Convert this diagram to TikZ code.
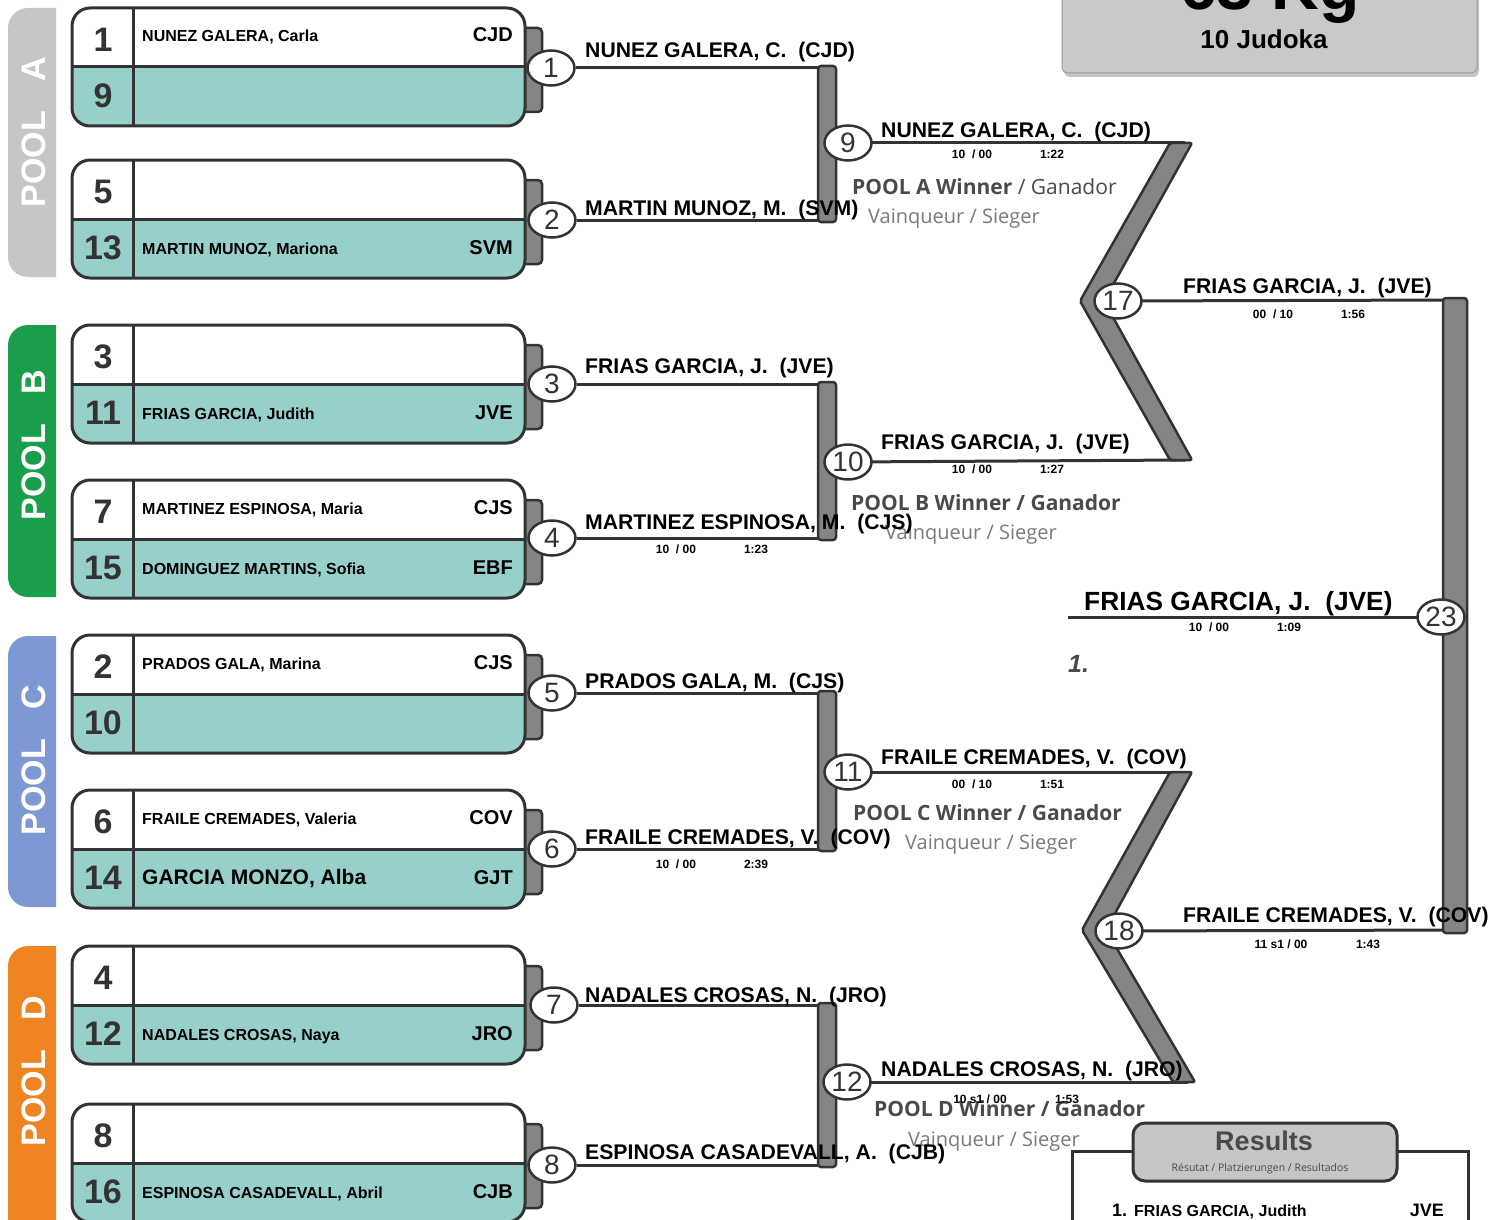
\documentclass[tikz,border=0pt]{standalone}
\usepackage{fontspec}
\setmainfont{Liberation Sans}
\newfontfamily\winfont{Open Sans}
\usetikzlibrary{shapes.geometric,shadows}
\definecolor{dk}{HTML}{333333}
\definecolor{bargray}{HTML}{858585}
\definecolor{tealc}{HTML}{97D0CB}
\definecolor{poolA}{HTML}{C6C6C6}
\definecolor{poolB}{HTML}{1B9E4B}
\definecolor{poolC}{HTML}{7D98D3}
\definecolor{poolD}{HTML}{EE8422}
\definecolor{titlegray}{HTML}{C8C9C9}
\definecolor{wintxt}{HTML}{4A4A4A}
\definecolor{vqtxt}{HTML}{7A7A7A}
\newcommand\fsz[1]{\fontsize{#1}{#1}\selectfont}
\tikzset{
 ebseed/.style={inner sep=0pt,font=\bfseries\fsz{34},text=dk},
 ebname/.style={anchor=base west,inner sep=0pt,font=\bfseries\fsz{16}},
 ebclub/.style={anchor=base east,inner sep=0pt,font=\bfseries\fsz{20}},
 mnum/.style={ellipse,draw=dk,line width=2.5pt,fill=white,minimum width=47pt,minimum height=35pt,inner sep=0pt,font=\fsz{28},text=dk},
 lbl/.style={anchor=base west,inner sep=0pt,font=\bfseries\fsz{21.2}},
 scoretxt/.style={anchor=base,inner sep=0pt,font=\bfseries\fsz{12}},
 conn/.style={draw=dk,line width=3pt},
 vbar/.style={fill=bargray,draw=dk,line width=2.5pt,rounded corners=3pt},
 vband/.style={fill=bargray,draw=dk,line width=2.5pt,rounded corners=2pt},
 wintop/.style={anchor=base west,inner sep=0pt,font=\winfont\fsz{21},text=wintxt},
 vqline/.style={anchor=base west,inner sep=0pt,font=\winfont\fsz{20},text=vqtxt},
 pooltxt/.style={rotate=90,inner sep=0pt,font=\bfseries\fsz{34},text=white}
}
\newcommand\ebox[8]{%
 \pgfmathsetmacro\bxT{#2}\pgfmathsetmacro\bxM{#2+59}\pgfmathsetmacro\bxB{#2+118}%
 \pgfmathsetmacro\bxU{#2+20}\pgfmathsetmacro\bxL{#2+104}%
 \filldraw[fill=bargray,draw=dk,line width=2.5pt,rounded corners=4pt] (505,\bxU) rectangle (542,\bxL);
 \fill[tealc,rounded corners=18pt] (72,\bxT) rectangle (525,\bxB);
 \begin{scope}\clip (60,\bxT-5) rectangle (540,\bxM);
 \fill[white,rounded corners=18pt] (72,\bxT) rectangle (525,\bxB);\end{scope}
 \draw[dk,line width=3pt] (72,\bxM) -- (525,\bxM) (133,\bxT) -- (133,\bxB);
 \draw[dk,line width=3pt,rounded corners=18pt] (72,\bxT) rectangle (525,\bxB);
 \node[ebseed] (sd#3) at (103,\bxT+32) {#3};
 \node[ebseed] (sd#6) at (103,\bxM+29) {#6};
 \node[ebname] (nm#3) at (142,\bxT+34) {#4};
 \node[ebclub] (cl#3) at (513,\bxT+34) {#5};
 \node[ebname] (nm#6) at (142,\bxM+35) {#7};
 \node[ebclub] (cl#6) at (513,\bxM+35) {#8};
}
\newcommand\pooltab[5]{%
 \begin{scope}\clip (0,#2) rectangle (56,#3);
 \fill[#1,rounded corners=20pt] (8,#2) rectangle (90,#3);\end{scope}
 \node[pooltxt] (pool#4) at (34,#5) {POOL\hspace{30pt}#4};
}
\begin{document}
\begin{tikzpicture}[x=1pt,y=-1pt]
\useasboundingbox (0,0) rectangle (1491,1220);
\fill[white] (0,0) rectangle (1491,1220);

% pool tabs
\pooltab{poolA}{8}{277}{A}{132}
\pooltab{poolB}{325}{597}{B}{445}
\pooltab{poolC}{636}{907}{C}{760}
\pooltab{poolD}{946}{1240}{D}{1071}

% entry boxes
\ebox{b1}{8}{1}{NUNEZ GALERA, Carla}{CJD}{9}{}{}
\ebox{b2}{160}{5}{}{}{13}{MARTIN MUNOZ, Mariona}{SVM}
\ebox{b3}{325}{3}{}{}{11}{FRIAS GARCIA, Judith}{JVE}
\ebox{b4}{480}{7}{MARTINEZ ESPINOSA, Maria}{CJS}{15}{DOMINGUEZ MARTINS, Sofia}{EBF}
\ebox{b5}{635}{2}{PRADOS GALA, Marina}{CJS}{10}{}{}
\ebox{b6}{790}{6}{FRAILE CREMADES, Valeria}{COV}{14}{\fsz{21}GARCIA MONZO, Alba}{GJT}
\ebox{b7}{946}{4}{}{}{12}{NADALES CROSAS, Naya}{JRO}
\ebox{b8}{1104}{8}{}{}{16}{ESPINOSA CASADEVALL, Abril}{CJB}

% title box
\path[fill=titlegray,draw=gray!80,line width=1pt,rounded corners=6pt,
 drop shadow={shadow xshift=2pt,shadow yshift=-4pt,opacity=0.45}] (1062,-20) rectangle (1477,73);
\node[anchor=base west,inner sep=0pt,font=\bfseries\fsz{66}] (wclass) at (1180,10) {63 Kg};
\node[anchor=base,inner sep=0pt,font=\bfseries\fsz{26}] (judoka) at (1264,49) {10 Judoka};

% match circles (round 1)
\node[mnum] (m1) at (551,68) {1};
\node[mnum] (m2) at (552,220) {2};
\node[mnum] (m3) at (552,384) {3};
\node[mnum] (m4) at (552,538) {4};
\node[mnum] (m5) at (552,693) {5};
\node[mnum] (m6) at (552,849) {6};
\node[mnum] (m7) at (554,1005) {7};
\node[mnum] (m8) at (552,1165) {8};

% coordinates
\coordinate (c1) at (827,68);   \coordinate (c2) at (827,220);
\coordinate (c3) at (827,384);  \coordinate (c4) at (827,538);
\coordinate (c5) at (827,693);  \coordinate (c6) at (827,849);
\coordinate (c7) at (827,1005); \coordinate (c8) at (827,1165);
\coordinate (c9) at (1185,143); \coordinate (c10) at (1185,460);
\coordinate (c11) at (1185,772); \coordinate (c12) at (1188,1082);
\coordinate (c17) at (1455,300); \coordinate (c18) at (1455,930);
\coordinate (c23) at (1068,617);

\path (848,143) coordinate (p9) (848,462) coordinate (p10) (848,772) coordinate (p11) (847,1082) coordinate (p12)
      (1118,301) coordinate (p17) (1119,931) coordinate (p18) (1441,617) coordinate (p23);

% connectors
\foreach \i in {1,...,8} {\draw[conn] (m\i) -- (c\i);}
\draw[conn] (p9) -- (c9);
\draw[conn] (p10) -- (c10);
\draw[conn] (p11) -- (c11);
\draw[conn] (p12) -- (c12);
\draw[conn] (p17) -- (c17);
\draw[conn] (p18) -- (c18);
\draw[conn] (p23) -- (c23);

% bars
\draw[vbar] (818,66) rectangle (836,222);
\draw[vbar] (818,382) rectangle (836,540);
\draw[vbar] (818,691) rectangle (836,851);
\draw[vbar] (818,1003) rectangle (836,1167);
\draw[vbar] (1443,298) rectangle (1467,933);

% V bands
\draw[vband] (1170,143) -- (1192,143) -- (1104,301) -- (1192,460) -- (1170,460) -- (1080,301) -- cycle;
\draw[vband] (1170,772) -- (1192,772) -- (1106,930) -- (1195,1082) -- (1173,1082) -- (1082,930) -- cycle;

% circles on top
\node[mnum] (m9) at (p9) {9};
\node[mnum] (m10) at (p10) {10};
\node[mnum] (m11) at (p11) {11};
\node[mnum] (m12) at (p12) {12};
\node[mnum] (m17) at (p17) {17};
\node[mnum] (m18) at (p18) {18};
\node[mnum] (m23) at (p23) {23};

% winner labels
\node[wintop] (wa) at (852,194) {\bfseries POOL A Winner \mdseries/ Ganador};
\node[vqline] (va) at (868,223) {Vainqueur / Sieger};
\node[wintop] (wb) at (851,510) {\bfseries POOL B Winner / Ganador};
\node[vqline] (vb) at (885,539) {Vainqueur / Sieger};
\node[wintop] (wc) at (853,820) {\bfseries POOL C Winner / Ganador};
\node[vqline] (vc) at (905,849) {Vainqueur / Sieger};
\node[wintop] (wd) at (874,1116) {\bfseries POOL D Winner / Ganador};
\node[vqline] (vd) at (908,1146) {Vainqueur / Sieger};

% match labels
\node[lbl] (t1) at (585,58) {NUNEZ GALERA, C.~~(CJD)};
\node[lbl] (t2) at (585,215) {MARTIN MUNOZ, M.~~(SVM)};
\node[lbl] (t3) at (585,373) {FRIAS GARCIA, J.~~(JVE)};
\node[lbl] (t4) at (585,529) {MARTINEZ ESPINOSA, M.~~(CJS)};
\node[lbl] (t5) at (585,688) {PRADOS GALA, M.~~(CJS)};
\node[lbl] (t6) at (585,844) {FRAILE CREMADES, V.~~(COV)};
\node[lbl] (t7) at (585,1002) {NADALES CROSAS, N.~~(JRO)};
\node[lbl] (t8) at (585,1159) {ESPINOSA CASADEVALL, A.~~(CJB)};
\node[lbl] (t9) at (881,138) {NUNEZ GALERA, C.~~(CJD)};
\node[lbl] (t10) at (881,449) {FRIAS GARCIA, J.~~(JVE)};
\node[lbl] (t11) at (881,764) {FRAILE CREMADES, V.~~(COV)};
\node[lbl] (t12) at (881,1076) {NADALES CROSAS, N.~~(JRO)};
\node[lbl] (t17) at (1183,293) {FRIAS GARCIA, J.~~(JVE)};
\node[lbl] (t18) at (1183,922) {FRAILE CREMADES, V.~~(COV)};
\node[lbl,font=\bfseries\fsz{26.3}] (t23) at (1084,610) {FRIAS GARCIA, J.~~(JVE)};
\node[anchor=base west,inner sep=0pt,font=\bfseries\itshape\fsz{25},text=wintxt] (place1) at (1068,672) {1.};

% scores
\node[scoretxt] (s4a) at (676,553.5) {10~~/ 00};   \node[scoretxt] (s4b) at (756,553.5) {1:23};
\node[scoretxt] (s6a) at (676,868.5) {10~~/ 00};   \node[scoretxt] (s6b) at (756,868.5) {2:39};
\node[scoretxt] (s9a) at (972,158.5) {10~~/ 00};   \node[scoretxt] (s9b) at (1052,158.5) {1:22};
\node[scoretxt] (s10a) at (972,473.5) {10~~/ 00};  \node[scoretxt] (s10b) at (1052,473.5) {1:27};
\node[scoretxt] (s11a) at (972,788.5) {00~~/ 10};  \node[scoretxt] (s11b) at (1052,788.5) {1:51};
\node[scoretxt] (s12a) at (980,1103.5) {10 s1 / 00}; \node[scoretxt] (s12b) at (1067,1103.5) {1:53};
\node[scoretxt] (s17a) at (1273,318.5) {00~~/ 10}; \node[scoretxt] (s17b) at (1353,318.5) {1:56};
\node[scoretxt] (s18a) at (1281,948.5) {11 s1 / 00}; \node[scoretxt] (s18b) at (1368,948.5) {1:43};
\node[scoretxt] (s23a) at (1209,631.5) {10~~/ 00}; \node[scoretxt] (s23b) at (1289,631.5) {1:09};

% results box
\draw[dk,line width=3pt,fill=white] (1072,1151) rectangle (1468,1245);
\filldraw[fill=poolA,draw=dk,line width=3pt,rounded corners=12pt] (1133,1123) rectangle (1397,1181);
\node[anchor=base,inner sep=0pt,font=\bfseries\fsz{27},text=wintxt] (restitle) at (1264,1150) {Results};
\node[anchor=base,inner sep=0pt,font=\winfont\fsz{10.5},text=wintxt] (ressub) at (1260,1171) {Résutat / Platzierungen / Resultados};
\node[anchor=base west,inner sep=0pt,font=\bfseries\fsz{18}] (r1n) at (1112,1216) {1.};
\node[anchor=base west,inner sep=0pt,font=\bfseries\fsz{16}] (r1) at (1134,1216) {FRIAS GARCIA, Judith};
\node[anchor=base east,inner sep=0pt,font=\bfseries\fsz{18}] (r1c) at (1444,1216) {JVE};
\end{tikzpicture}
\end{document}
